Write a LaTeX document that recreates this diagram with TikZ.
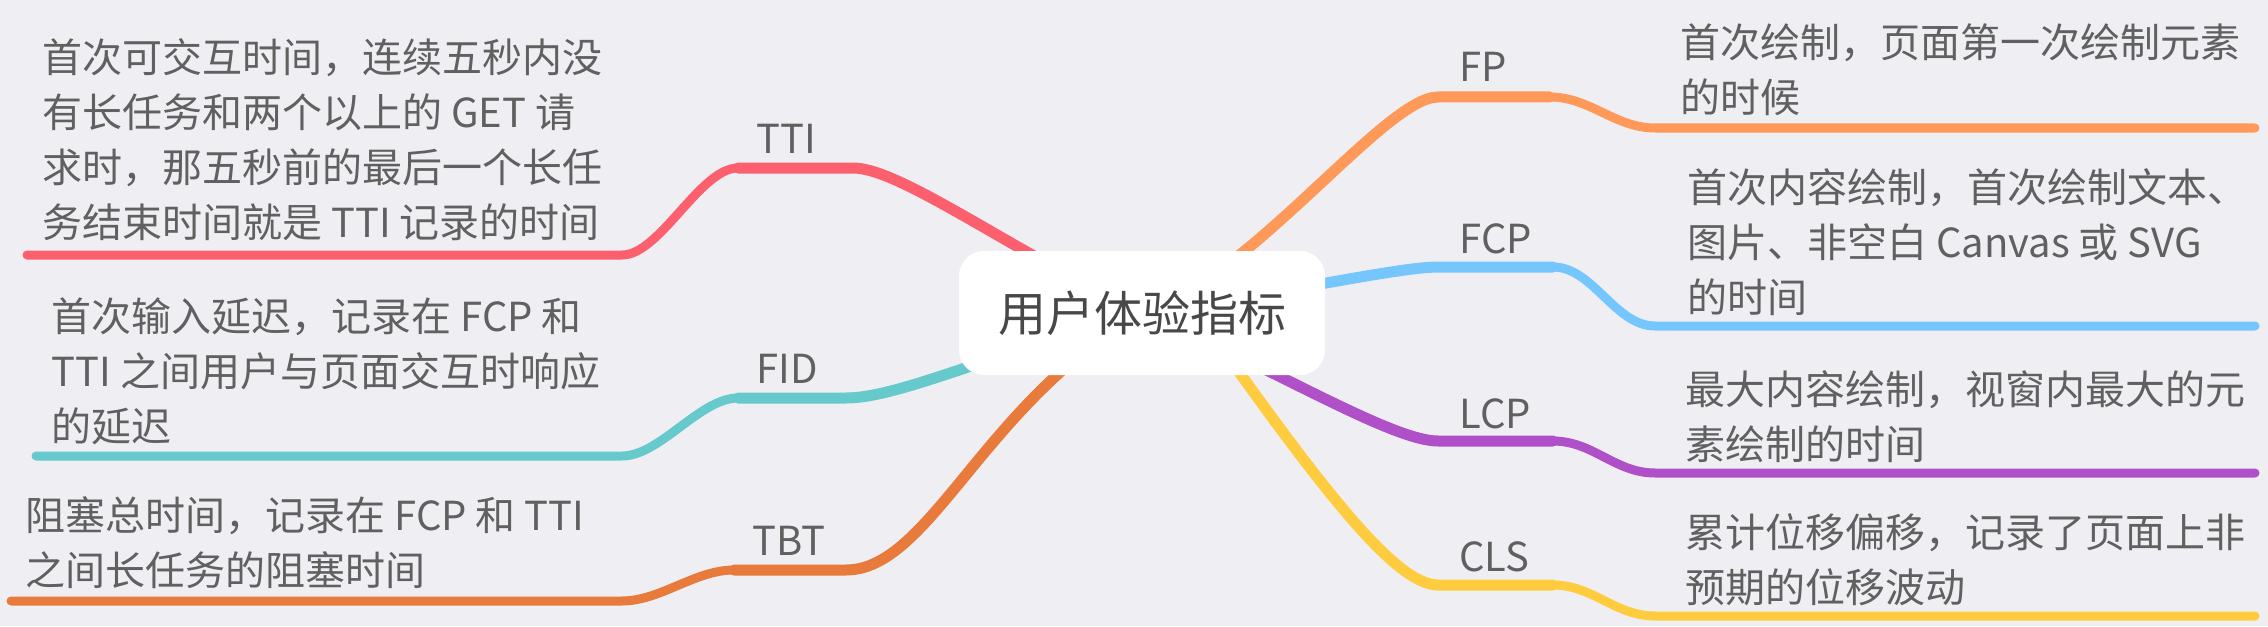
\documentclass[tikz,border=0pt]{standalone}
\usepackage{fontspec}
\setmainfont{Noto Sans CJK SC}
\definecolor{bgcol}{RGB}{239,239,243}
\definecolor{txtcol}{RGB}{96,96,96}
\definecolor{rootcol}{RGB}{72,72,72}
\definecolor{ttired}{RGB}{252,96,110}
\definecolor{fidteal}{RGB}{102,201,204}
\definecolor{tbtorange}{RGB}{232,122,60}
\definecolor{fporange}{RGB}{255,153,90}
\definecolor{fcpblue}{RGB}{116,198,253}
\definecolor{lcppurple}{RGB}{175,80,200}
\definecolor{clsyellow}{RGB}{255,204,64}
\tikzset{
  branch/.style={line width=5.5pt, line cap=round},
  twig/.style={line width=4.5pt, line cap=round},
  lab/.style={anchor=base west, inner sep=0pt, text=txtcol, font=\fontsize{20pt}{24pt}\selectfont},
  desc/.style={anchor=north west, inner sep=0pt, align=left, text=txtcol, font=\fontsize{20pt}{27.5pt}\selectfont},
  rootbox/.style={fill=white, rounded corners=12.5pt, minimum width=183pt, minimum height=62pt, inner sep=0pt, text=rootcol, font=\fontsize{24pt}{28pt}\selectfont}
}
\begin{document}
\begin{tikzpicture}[x=0.5pt, y=-0.5pt]
    \fill[bgcol] (0,0) rectangle (2268,626);
    \useasboundingbox (0,0) rectangle (2268,626);
    \coordinate (hub) at (1142,313);
    % left branches
    \coordinate (tti-a) at (853,168);  \coordinate (tti-b) at (738,168);
    \coordinate (tti-c) at (622,255);  \coordinate (tti-d) at (27,255);
    \coordinate (fid-a) at (846,398);  \coordinate (fid-b) at (738,398);
    \coordinate (fid-c) at (622,456);  \coordinate (fid-d) at (36,456);
    \coordinate (tbt-a) at (846,570);  \coordinate (tbt-b) at (734,570);
    \coordinate (tbt-c) at (622,601);  \coordinate (tbt-d) at (11,601);
    % right branches
    \coordinate (fp-a) at (1438,97);   \coordinate (fp-b) at (1550,97);
    \coordinate (fp-c) at (1655,128);  \coordinate (fp-d) at (2255,128);
    \coordinate (fcp-a) at (1438,267); \coordinate (fcp-b) at (1553,267);
    \coordinate (fcp-c) at (1655,326); \coordinate (fcp-d) at (2255,326);
    \coordinate (lcp-a) at (1438,441); \coordinate (lcp-b) at (1553,441);
    \coordinate (lcp-c) at (1655,473); \coordinate (lcp-d) at (2255,473);
    \coordinate (cls-o) at (1197,313);
    \coordinate (cls-a) at (1438,585); \coordinate (cls-b) at (1553,585);
    \coordinate (cls-c) at (1655,616); \coordinate (cls-d) at (2255,616);

    \draw[branch, ttired] (hub) .. controls (1010,250) and (900,168) .. (tti-a) -- (tti-b);
    \draw[twig, ttired] (tti-b) .. controls (700,168) and (660,255) .. (tti-c) -- (tti-d);
    \draw[branch, fidteal] (hub) .. controls (1000,350) and (900,398) .. (fid-a) -- (fid-b);
    \draw[twig, fidteal] (fid-b) .. controls (700,398) and (660,456) .. (fid-c) -- (fid-d);
    \draw[branch, tbtorange] (hub) .. controls (985,400) and (930,570) .. (tbt-a) -- (tbt-b);
    \draw[twig, tbtorange] (tbt-b) .. controls (695,570) and (660,601) .. (tbt-c) -- (tbt-d);
    \draw[branch, fporange] (hub) .. controls (1250,280) and (1385,97) .. (fp-a) -- (fp-b);
    \draw[twig, fporange] (fp-b) .. controls (1590,97) and (1615,128) .. (fp-c) -- (fp-d);
    \draw[branch, fcpblue] (hub) .. controls (1250,300) and (1395,267) .. (fcp-a) -- (fcp-b);
    \draw[twig, fcpblue] (fcp-b) .. controls (1593,267) and (1615,326) .. (fcp-c) -- (fcp-d);
    \draw[branch, lcppurple] (hub) .. controls (1260,360) and (1390,441) .. (lcp-a) -- (lcp-b);
    \draw[twig, lcppurple] (lcp-b) .. controls (1593,441) and (1615,473) .. (lcp-c) -- (lcp-d);
    \draw[branch, clsyellow] (hub) -- (cls-o) .. controls (1320,487) and (1395,585) .. (cls-a) -- (cls-b);
    \draw[twig, clsyellow] (cls-b) .. controls (1593,585) and (1615,616) .. (cls-c) -- (cls-d);

    \node[lab] (tti) at (756,153) {TTI};
    \node[lab] (fid) at (756,383) {FID};
    \node[lab] (tbt) at (752,555) {TBT};
    \node[lab] (fp) at (1459,82) {FP};
    \node[lab] (fcp) at (1459,253) {FCP};
    \node[lab] (lcp) at (1459,428) {LCP};
    \node[lab] (cls) at (1459,571) {CLS};

    \node[desc] (tti-txt) at (42,38) {首次可交互时间，连续五秒内没\\有长任务和两个以上的 GET 请\\求时，那五秒前的最后一个长任\\务结束时间就是 TTI 记录的时间};
    \node[desc] (fid-txt) at (51,297) {首次输入延迟，记录在 FCP 和\\TTI 之间用户与页面交互时响应\\的延迟};
    \node[desc] (tbt-txt) at (25,496) {阻塞总时间，记录在 FCP 和 TTI\\之间长任务的阻塞时间};
    \node[desc] (fp-txt) at (1680,23) {首次绘制，页面第一次绘制元素\\的时候};
    \node[desc] (fcp-txt) at (1687,168) {首次内容绘制，首次绘制文本、\\图片、非空白 Canvas 或 SVG\\的时间};
    \node[desc] (lcp-txt) at (1685,370) {最大内容绘制，视窗内最大的元\\素绘制的时间};
    \node[desc] (cls-txt) at (1685,513) {累计位移偏移，记录了页面上非\\预期的位移波动};

    \node[rootbox] (root) at (hub) {用户体验指标};
\end{tikzpicture}
\end{document}
